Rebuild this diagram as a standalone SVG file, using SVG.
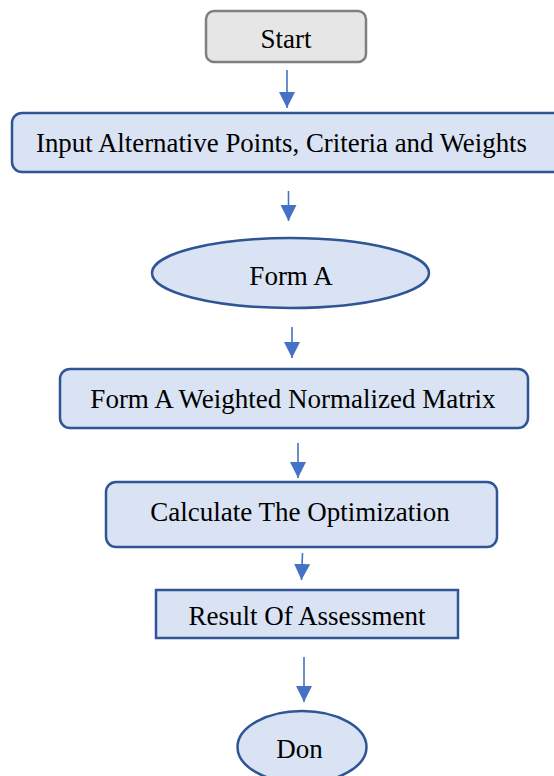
<svg xmlns="http://www.w3.org/2000/svg" width="554" height="776" viewBox="0 0 554 776">
<style>
.node{fill:#dae3f3;stroke:#2f5597;stroke-width:2.5}
.start{fill:#e7e6e6;stroke:#7f7f7f;stroke-width:2.5}
.lbl{font-family:'Liberation Serif','DejaVu Serif',serif;font-size:27px;fill:#000;text-anchor:middle}
.conn{stroke:#4472c4;stroke-width:1.6;fill:none}
</style>
<defs>
<marker id="arr" viewBox="0 0 16 16" refX="16" refY="8" markerWidth="16" markerHeight="16" markerUnits="userSpaceOnUse" orient="auto">
<path d="M0,0 L16,8 L0,16 z" fill="#4472c4"/>
</marker>
</defs>
<rect width="554" height="776" fill="#fff"/>
<g id="start">
<rect class="start" x="206" y="11" width="160" height="51" rx="8"/>
<text class="lbl" x="286" y="48">Start</text>
</g>
<g id="input">
<rect class="node" x="12" y="113" width="552" height="59" rx="10"/>
<text class="lbl" x="281.5" y="152" textLength="491" lengthAdjust="spacingAndGlyphs">Input Alternative Points, Criteria and Weights</text>
</g>
<g id="formA">
<ellipse class="node" cx="290.5" cy="273" rx="138.5" ry="35"/>
<text class="lbl" x="291" y="285">Form A</text>
</g>
<g id="matrix">
<rect class="node" x="60" y="369" width="468" height="59" rx="10"/>
<text class="lbl" x="293" y="408">Form A Weighted Normalized Matrix</text>
</g>
<g id="calc">
<rect class="node" x="106" y="482" width="391" height="65" rx="10"/>
<text class="lbl" x="300" y="521">Calculate The Optimization</text>
</g>
<g id="result">
<rect class="node" x="156" y="590" width="302" height="48"/>
<text class="lbl" x="307" y="625">Result Of Assessment</text>
</g>
<g id="don">
<ellipse class="node" cx="302" cy="747" rx="64.5" ry="36"/>
<text class="lbl" x="299.5" y="758">Don</text>
</g>
<g id="connectors">
<line class="conn" x1="287" y1="70" x2="287" y2="108" marker-end="url(#arr)"/>
<line class="conn" x1="288.5" y1="191" x2="288.5" y2="221" marker-end="url(#arr)"/>
<line class="conn" x1="292" y1="327" x2="292" y2="358" marker-end="url(#arr)"/>
<line class="conn" x1="298" y1="443" x2="298" y2="478" marker-end="url(#arr)"/>
<line class="conn" x1="302.5" y1="553" x2="301.5" y2="580" marker-end="url(#arr)"/>
<line class="conn" x1="304" y1="657" x2="304" y2="702" marker-end="url(#arr)"/>
</g>
</svg>
